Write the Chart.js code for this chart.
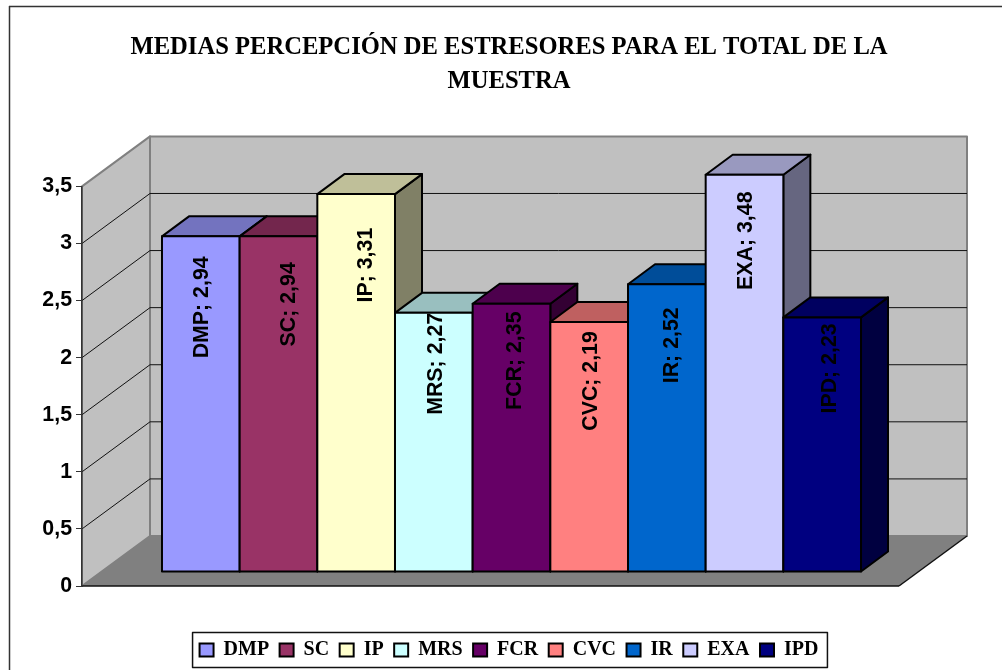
<!DOCTYPE html>
<html>
<head>
<meta charset="utf-8">
<title>Medias percepción de estresores</title>
<script src="https://cdn.jsdelivr.net/npm/chart.js@4/dist/chart.umd.js"></script>
<style>
    html, body { margin: 0; padding: 0; background: #fff; overflow: hidden; }
    canvas { display: block; }
</style>
</head>
<body>
<canvas id="chart" width="1002" height="670"></canvas>
<script>
const categories = [""];
const seriesNames = ["DMP", "SC", "IP", "MRS", "FCR", "CVC", "IR", "EXA", "IPD"];
const seriesValues = [2.94, 2.94, 3.31, 2.27, 2.35, 2.19, 2.52, 3.48, 2.23];
const seriesColors = ["#9999ff", "#993366", "#ffffcc", "#ccffff", "#660066", "#ff8080", "#0066cc", "#ccccff", "#000080"];
const titleLines = ["MEDIAS PERCEPCIÓN DE ESTRESORES PARA EL TOTAL DE LA", "MUESTRA"];

// where each vertical value label sits, relative to the bar's centre and top
const labelShiftX = [1, 11, 10, 2, 3.5, 1.5, 5.5, 2, 8];
const labelShiftY = [71, 68, 71, 51, 57, 59, 61, 66, 51];

const wallDepth = { x: 68, y: 50 };
const barShift = { x: 21, y: 14 };
const barDepth = { x: 27, y: 20 };
const wallColor = "#c0c0c0";
const floorColor = "#808080";
const sansBold = { family: "'Liberation Sans'", weight: "bold", size: 21.33 };
const serifBold = { family: "'Liberation Serif'", weight: "bold" };

function shade(hex, factor) {
    const n = parseInt(hex.slice(1), 16);
    const c = [n >> 16, (n >> 8) & 255, n & 255].map(v => Math.round(v * factor));
    return `rgb(${c[0]},${c[1]},${c[2]})`;
}

function polygon(ctx, points, fill, stroke, width) {
    ctx.beginPath();
    points.forEach((p, i) => i ? ctx.lineTo(p[0], p[1]) : ctx.moveTo(p[0], p[1]));
    ctx.closePath();
    if (fill) {
        ctx.fillStyle = fill;
        ctx.fill();
    }
    if (stroke) {
        ctx.strokeStyle = stroke;
        ctx.lineWidth = width;
        ctx.lineJoin = "round";
        ctx.stroke();
    }
}

function segment(ctx, x1, y1, x2, y2, color, width) {
    ctx.beginPath();
    ctx.moveTo(x1, y1);
    ctx.lineTo(x2, y2);
    ctx.strokeStyle = color;
    ctx.lineWidth = width;
    ctx.stroke();
}

// frame, walls, floor, gridlines and the box behind the legend
const backdrop = {
    id: "backdrop",
    beforeDraw(chart) {
        const { ctx, chartArea: area, scales: { y } } = chart;
        const dx = wallDepth.x, dy = wallDepth.y;
        const top = y.getPixelForValue(3.5), bottom = y.getPixelForValue(0);
        ctx.save();
        ctx.fillStyle = "#fff";
        ctx.fillRect(0, 0, chart.width, chart.height);
        segment(ctx, 9.5, 6, 9.5, chart.height, "#333", 1.5);
        segment(ctx, 9, 6.5, chart.width, 6.5, "#333", 1.5);

        polygon(ctx, [[area.left + dx, top - dy], [area.right + dx, top - dy], [area.right + dx, bottom - dy], [area.left + dx, bottom - dy]], wallColor, floorColor, 2);
        polygon(ctx, [[area.left, top], [area.left + dx, top - dy], [area.left + dx, bottom - dy], [area.left, bottom]], wallColor, floorColor, 2);
        polygon(ctx, [[area.left, bottom], [area.left + dx, bottom - dy], [area.right + dx, bottom - dy], [area.right, bottom]], floorColor);
        segment(ctx, area.left, bottom, area.right, bottom, "#111", 1.5);
        segment(ctx, area.right, bottom, area.right + dx, bottom - dy, "#111", 1.5);

        y.ticks.forEach(t => {
            if (t.value <= 0 || t.value >= 3.5) return;
            const py = y.getPixelForValue(t.value);
            segment(ctx, area.left, py, area.left + dx, py - dy, "#111", 1);
            segment(ctx, area.left + dx, py - dy, area.right + dx, py - dy, "#111", 1);
        });

        const boxes = chart.legend.legendHitBoxes;
        const first = boxes[0], last = boxes[boxes.length - 1];
        const middle = first.top + first.height / 2;
        ctx.strokeStyle = "#111";
        ctx.lineWidth = 1.5;
        ctx.strokeRect(first.left - 7, middle - 17.5, last.left + last.width - first.left + 16, 35);
        ctx.restore();
    }
};

// paints the bars left to right with their depth faces, shifted back onto the floor
const bars3d = {
    id: "bars3d",
    beforeDatasetsDraw(chart) {
        const { ctx } = chart;
        const dx = barDepth.x, dy = barDepth.y;
        ctx.save();
        ctx.translate(barShift.x, -barShift.y);
        seriesNames.forEach((name, i) => {
            const bar = chart.getDatasetMeta(i).data[0];
            const l = bar.x - bar.width / 2, r = bar.x + bar.width / 2;
            polygon(ctx, [[r, bar.y], [r + dx, bar.y - dy], [r + dx, bar.base - dy], [r, bar.base]], shade(seriesColors[i], 0.5), "#000", 2);
            polygon(ctx, [[l, bar.y], [l + dx, bar.y - dy], [r + dx, bar.y - dy], [r, bar.y]], shade(seriesColors[i], 0.75), "#000", 2);
            bar.draw(ctx);
            ctx.strokeStyle = "#000";
            ctx.lineWidth = 2;
            ctx.strokeRect(l, bar.y, bar.width, bar.base - bar.y);
        });
        seriesNames.forEach((name, i) => {
            const bar = chart.getDatasetMeta(i).data[0];
            const text = `${name}; ${seriesValues[i].toFixed(2).replace(".", ",")}`;
            ctx.save();
            ctx.translate(bar.x + labelShiftX[i], bar.y + labelShiftY[i]);
            ctx.rotate(-Math.PI / 2);
            ctx.font = `${sansBold.weight} ${sansBold.size}px ${sansBold.family}`;
            ctx.fillStyle = "#000";
            ctx.textAlign = "center";
            ctx.textBaseline = "middle";
            ctx.fillText(text, 0, 0);
            ctx.restore();
        });
        ctx.restore();
        return false;
    }
};

new Chart(document.getElementById("chart"), {
    type: "bar",
    data: {
        labels: categories,
        datasets: seriesNames.map((name, i) => ({
            label: name,
            data: [seriesValues[i]],
            backgroundColor: seriesColors[i],
            borderWidth: 0,
            categoryPercentage: 0.8556,
            barPercentage: 1
        }))
    },
    options: {
        responsive: false,
        animation: { duration: 0 },
        layout: { padding: { left: 16, right: 0, top: 0, bottom: 0 } },
        plugins: {
            tooltip: { enabled: false },
            title: {
                display: true,
                text: titleLines,
                color: "#000",
                font: { ...serifBold, size: 24.6, lineHeight: 1.38 },
                padding: { top: 31, bottom: 87.5 }
            },
            legend: {
                position: "bottom",
                labels: {
                    color: "#000",
                    font: { ...serifBold, size: 20 },
                    boxWidth: 14,
                    boxHeight: 13,
                    padding: 10.5,
                    generateLabels: chart => chart.data.datasets.map((d, i) => ({
                        text: d.label,
                        fillStyle: d.backgroundColor,
                        strokeStyle: "#000",
                        lineWidth: 2,
                        datasetIndex: i
                    }))
                }
            }
        },
        scales: {
            x: {
                grid: { display: false },
                border: { display: false },
                ticks: { display: false },
                afterFit: s => { s.height = 43.5; }
            },
            y: {
                min: 0,
                max: 3.5,
                afterFit: s => { s.width = 66; },
                grid: { drawOnChartArea: false, tickLength: 6, tickColor: "#333" },
                border: { color: "#333", width: 1.5 },
                ticks: {
                    stepSize: 0.5,
                    padding: 4,
                    color: "#000",
                    font: sansBold,
                    callback: v => String(v).replace(".", ",")
                }
            },
            // keeps the plot clear of the right margin while title and legend stay centred on the page
            spacer: {
                position: "right",
                grid: { display: false },
                border: { display: false },
                ticks: { display: false },
                afterFit: s => { s.width = 103; }
            }
        }
    },
    plugins: [backdrop, bars3d]
});
</script>
</body>
</html>
